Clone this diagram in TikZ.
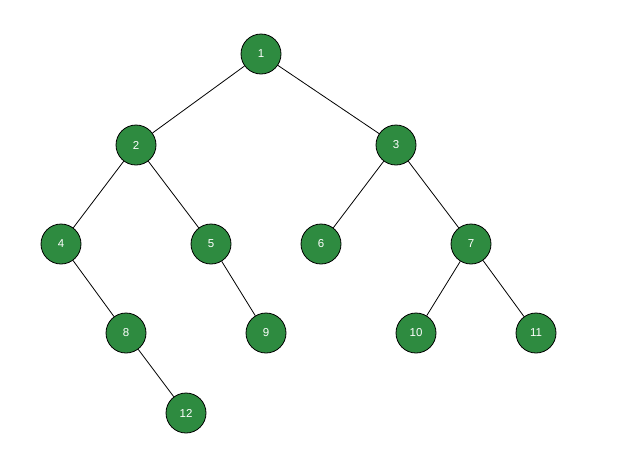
\documentclass[tikz,border=0pt]{standalone}
\usepackage{fontspec}
\setsansfont{Liberation Sans}
\usepackage{tikz}
\definecolor{treegreen}{RGB}{46,139,64}
\tikzstyle{vertex}=[circle, draw, fill=treegreen, text=white, inner sep=0pt, minimum size=40pt, font=\sffamily\fontsize{11.5}{11.5}\selectfont]
\newcommand{\vertex}{\node[vertex]}

\begin{document}
\begin{tikzpicture}[x=1pt,y=-1pt,line width=0.8pt]
	\useasboundingbox (0,0) rectangle (617,472);
	%% the vertices
	\vertex (n1) at (261,54) {1};
	\vertex (n2) at (136,145) {2};
	\vertex (n3) at (396,145) {3};
	\vertex (n4) at (61,244) {4};
	\vertex (n5) at (211,244) {5};
	\vertex (n6) at (321,244) {6};
	\vertex (n7) at (471,244) {7};
	\vertex (n8) at (126,333) {8};
	\vertex (n9) at (266,333) {9};
	\vertex (n10) at (416,333) {10};
	\vertex (n11) at (536,333) {11};
	\vertex (n12) at (186,413) {12};
	%% for the edges
	\path
		(n1) edge (n2)
		(n1) edge (n3)
		(n2) edge (n4)
		(n2) edge (n5)
		(n3) edge (n6)
		(n3) edge (n7)
		(n4) edge (n8)
		(n5) edge (n9)
		(n7) edge (n10)
		(n7) edge (n11)
		(n8) edge (n12)
		;

\end{tikzpicture}
\end{document}
